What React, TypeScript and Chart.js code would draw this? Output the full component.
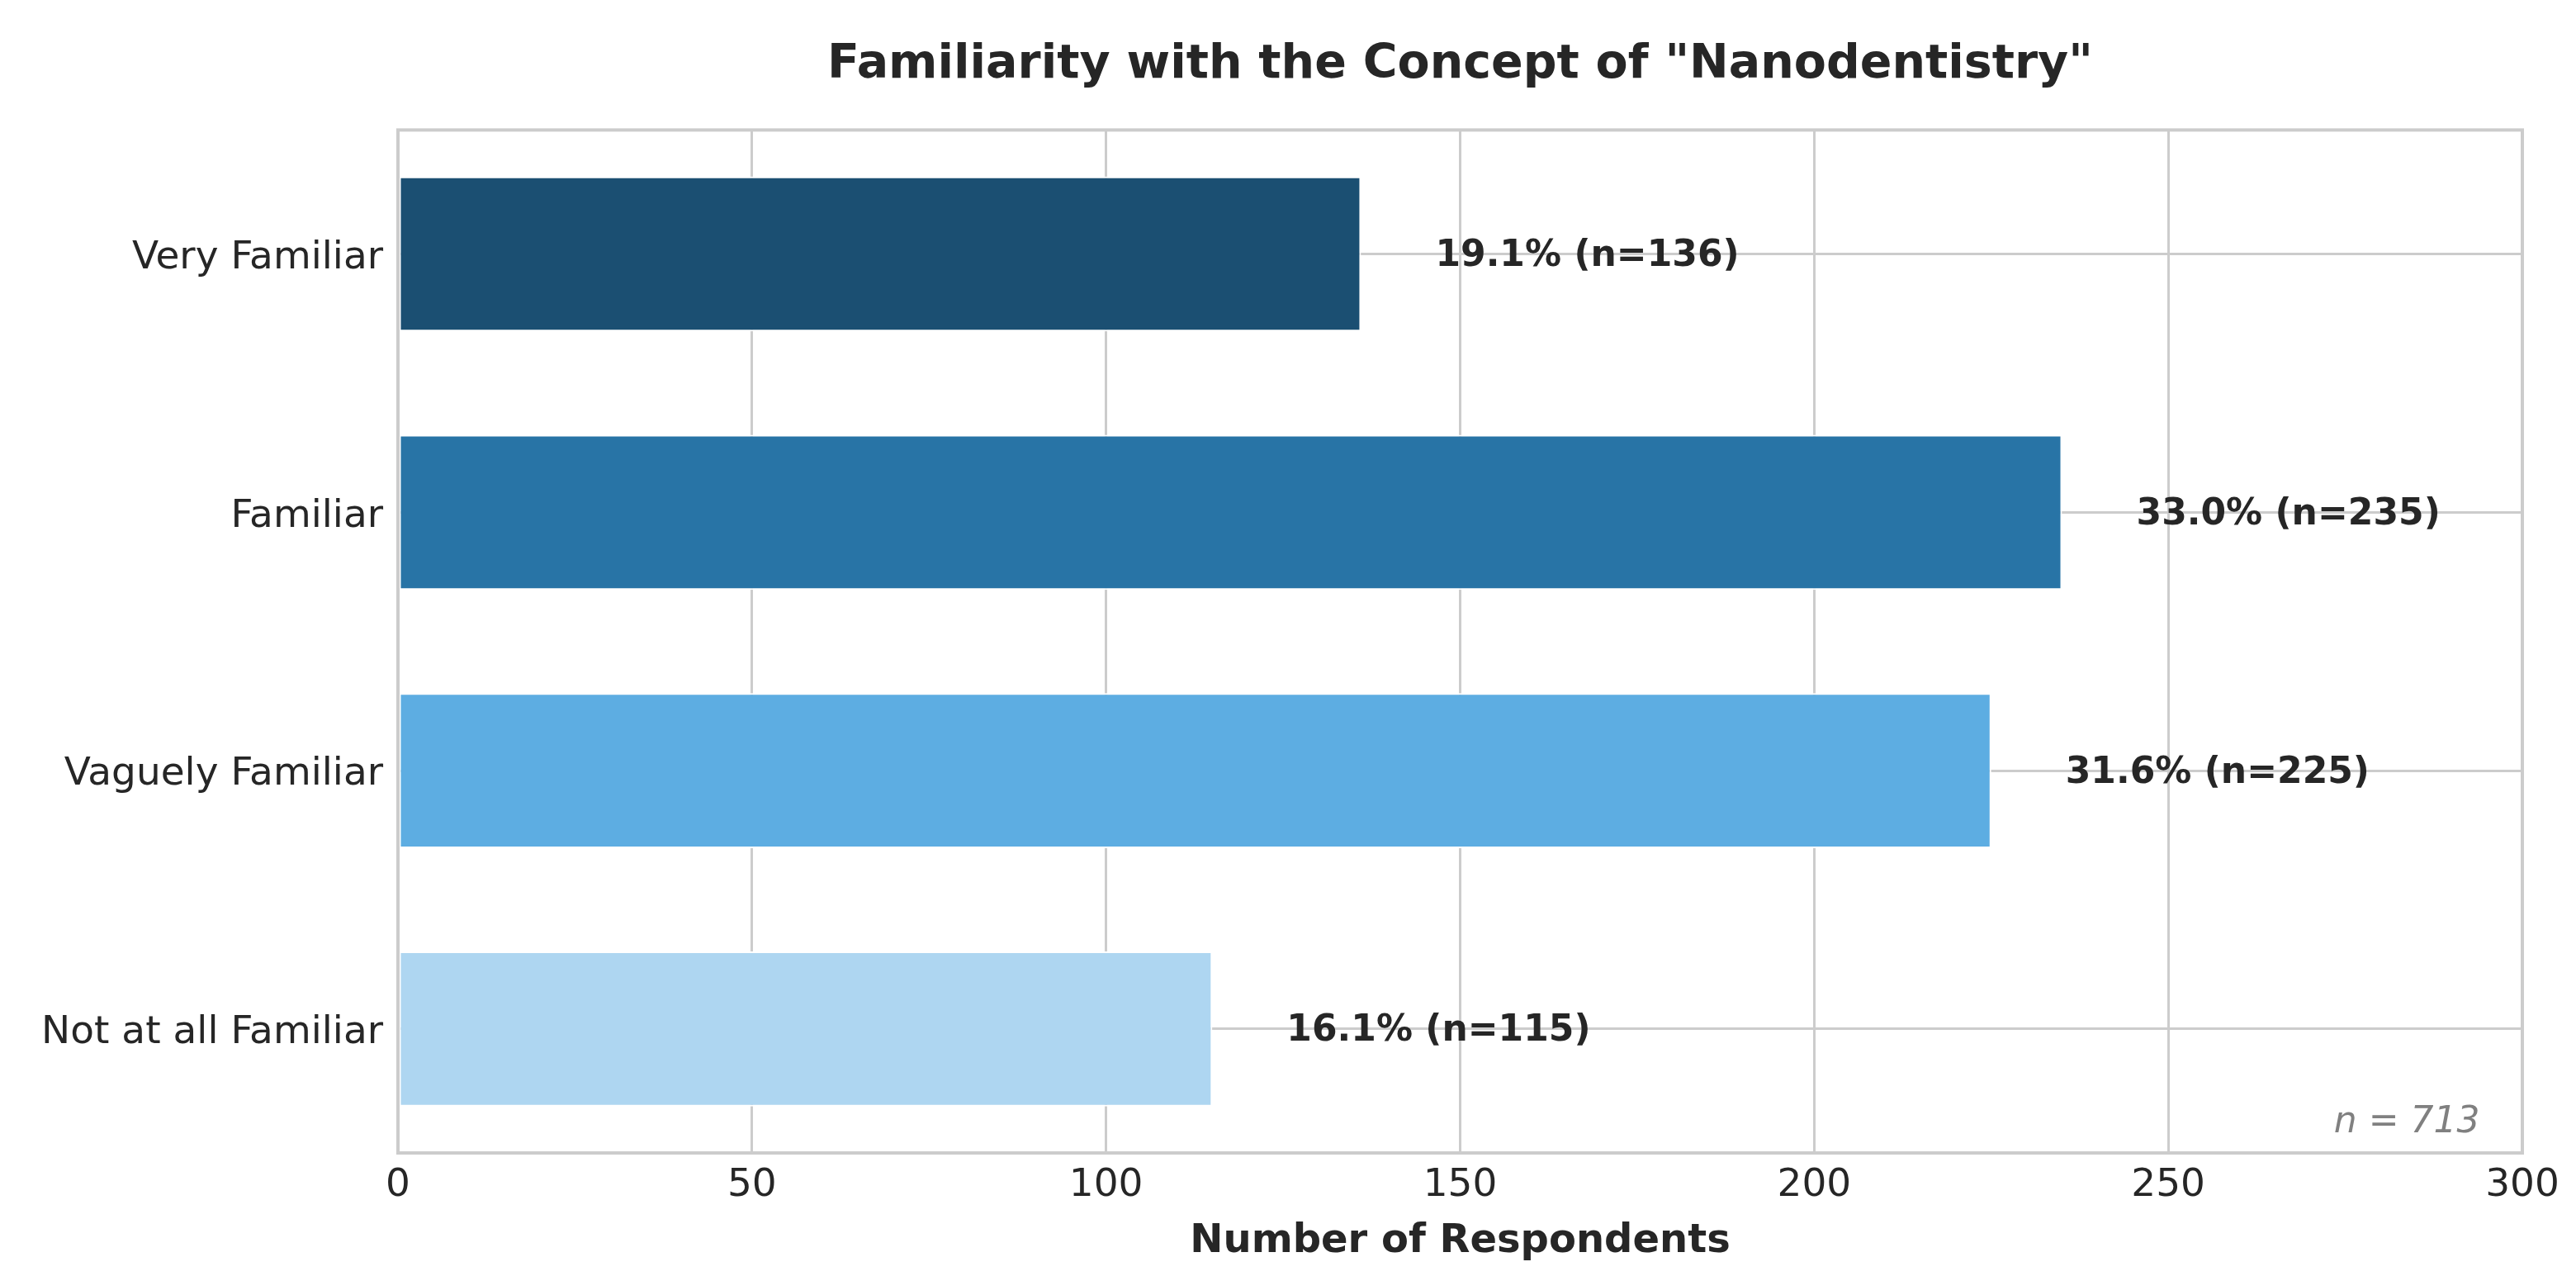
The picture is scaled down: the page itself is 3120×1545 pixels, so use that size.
import React, { useEffect, useRef } from 'react';
import { Chart, registerables } from 'chart.js';

Chart.register(...registerables);

const categories = ['Very Familiar', 'Familiar', 'Vaguely Familiar', 'Not at all Familiar'];
const counts = [136, 235, 225, 115];
const percents = [19.1, 33.0, 31.6, 16.1];
const barColors = ['#1B4F72', '#2874A6', '#5DADE2', '#AED6F1'];
const xMin = 0;
const xMax = 300;
const xStep = 50;
const totalN = 713;
const titleText = 'Familiarity with the Concept of "Nanodentistry"';
const xTitle = 'Number of Respondents';

const FONT = '"DejaVu Sans", "Noto Sans", sans-serif';
const TEXT = '#262626';
const GRID = '#cccccc';

const annotatePlugin = {
  id: 'annotate',
  afterDatasetsDraw(chart: any) {
    const { ctx, chartArea, scales } = chart;
    const { left, right, top, bottom } = chartArea;
    const w = right - left;
    const h = bottom - top;
    ctx.save();
    // frame
    ctx.strokeStyle = GRID;
    ctx.lineWidth = 4;
    ctx.strokeRect(left, top, w, h);
    // value labels
    ctx.font = `bold 44px ${FONT}`;
    ctx.fillStyle = TEXT;
    ctx.textAlign = 'left';
    ctx.textBaseline = 'middle';
    counts.forEach((c, i) => {
      const x = scales.x.getPixelForValue(c) + 90;
      const y = scales.y.getPixelForValue(i) + 3;
      ctx.fillText(`${percents[i].toFixed(1)}% (n=${c})`, x, y);
    });
    // n annotation
    ctx.font = `italic 44px ${FONT}`;
    ctx.fillStyle = '#808080';
    ctx.textAlign = 'right';
    ctx.textBaseline = 'alphabetic';
    ctx.fillText(`n = ${totalN}`, right - 0.02 * w, bottom - 0.02 * h);
    ctx.restore();
  },
};

export default function App() {
  const canvasRef = useRef<HTMLCanvasElement | null>(null);

  useEffect(() => {
    document.body.style.margin = '0';
    const canvas = canvasRef.current;
    if (!canvas) return;
    const chart = new Chart(canvas, {
      type: 'bar',
      data: {
        datasets: [
          {
            data: counts.map((c, i) => ({ x: c, y: i })),
            backgroundColor: barColors,
            borderColor: '#ffffff',
            borderWidth: 2,
            borderSkipped: false,
            categoryPercentage: 1,
            barPercentage: 0.6,
          },
        ],
      },
      options: {
        indexAxis: 'y',
        animation: false,
        responsive: false,
        devicePixelRatio: 1,
        layout: { padding: { left: 0, right: 65, top: 0, bottom: 0 } },
        plugins: {
          legend: { display: false },
          tooltip: { enabled: false },
          title: {
            display: true,
            fullSize: false,
            text: titleText,
            color: TEXT,
            font: { family: FONT, size: 57, weight: 'bold' },
            padding: { top: 45, bottom: 44 },
          },
        },
        scales: {
          x: {
            type: 'linear',
            position: 'bottom',
            min: xMin,
            max: xMax,
            afterFit: (s: any) => {
              s.height = 149;
            },
            ticks: {
              stepSize: xStep,
              color: TEXT,
              font: { family: FONT, size: 47 },
              padding: 12,
            },
            grid: { color: GRID, lineWidth: 3, drawTicks: false },
            border: { display: false },
            title: {
              display: true,
              text: xTitle,
              color: TEXT,
              font: { family: FONT, size: 48, weight: 'bold' },
              padding: { top: 0, bottom: 13 },
            },
          },
          y: {
            type: 'linear',
            min: -0.48,
            max: categories.length - 1 + 0.48,
            reverse: true,
            offset: false,
            afterFit: (s: any) => {
              s.width = 482;
            },
            ticks: {
              stepSize: 1,
              includeBounds: false,
              autoSkip: false,
              color: TEXT,
              font: { family: FONT, size: 47 },
              padding: 18,
              labelOffset: 5,
              callback: (v: any) => {
                const n = Number(v);
                return Number.isInteger(n) && categories[n] !== undefined ? categories[n] : '';
              },
            },
            grid: { color: GRID, lineWidth: 3, drawTicks: false, offset: false },
            border: { display: false },
          },
        },
      },
      plugins: [annotatePlugin],
    } as any);
    return () => chart.destroy();
  }, []);

  return (
    <div style={{ width: 3120, height: 1545, background: '#ffffff' }}>
      <canvas ref={canvasRef} width={3120} height={1545} style={{ display: 'block' }} />
    </div>
  );
}
